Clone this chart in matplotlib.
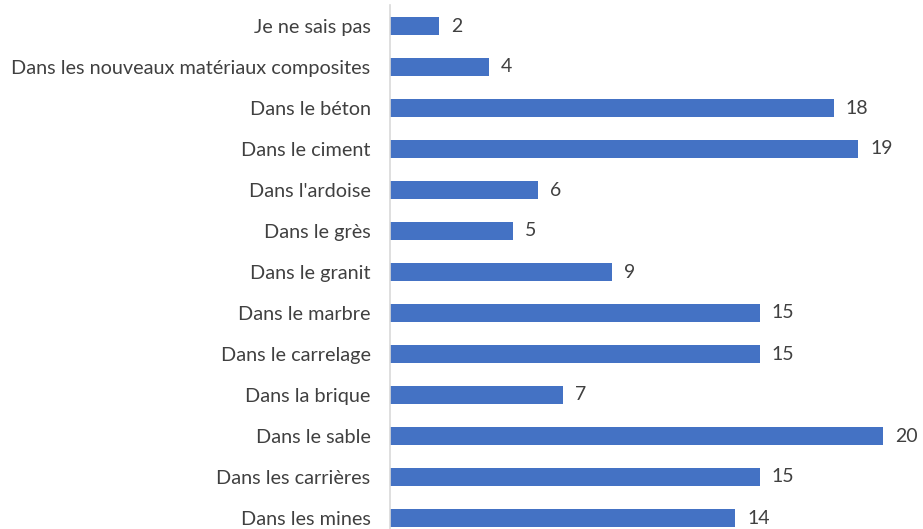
import matplotlib
matplotlib.use("Agg")
import matplotlib.pyplot as plt

categories = ["Je ne sais pas", "Dans les nouveaux matériaux composites", "Dans le béton",
              "Dans le ciment", "Dans l'ardoise", "Dans le grès", "Dans le granit",
              "Dans le marbre", "Dans le carrelage", "Dans la brique", "Dans le sable",
              "Dans les carrières", "Dans les mines"]
values = [2, 4, 18, 19, 6, 5, 9, 15, 15, 7, 20, 15, 14]

plt.rcParams['font.family'] = ['Lato', 'DejaVu Sans']

W, H = 923, 529
fig = plt.figure(figsize=(W/100, H/100), dpi=100)
left = 390 / W
ax = fig.add_axes([left, 0, (920 - 390) / W, (H - 5) / H])

ypos = list(range(len(categories)))
ax.barh(ypos, values, height=0.42, color="#4472C4")
ax.set_xlim(0, 530 / 24.65)
ax.set_ylim((H - 26) / 41, -21 / 41)

for y, v in zip(ypos, values):
    ax.text(v + 12 / 24.65, y, str(v), va="center", ha="left", fontsize=14, color="#404040")

ax.set_yticks(ypos)
ax.set_yticklabels(categories, fontsize=14.3, color="#404040")
ax.tick_params(axis="y", length=0, pad=14)
ax.set_xticks([])
for s in ["top", "right", "bottom"]:
    ax.spines[s].set_visible(False)
ax.spines["left"].set_color("#D9D9D9")
ax.spines["left"].set_linewidth(1.2)

fig.savefig("out.png", dpi=100)
